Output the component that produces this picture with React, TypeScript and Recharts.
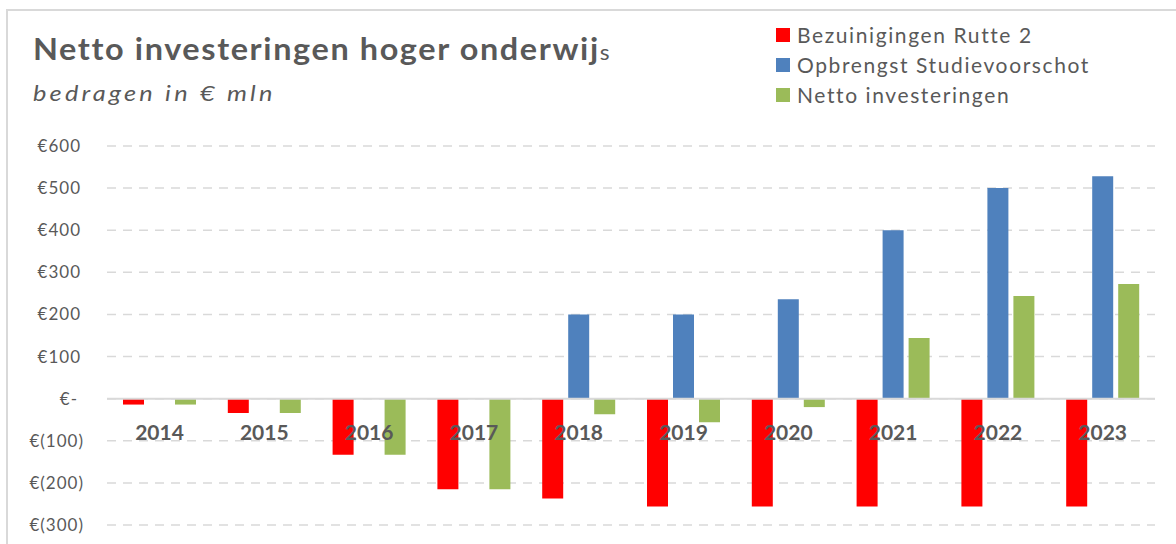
import React from "react";
import {
  BarChart,
  Bar,
  XAxis,
  YAxis,
  CartesianGrid,
  ReferenceLine,
  LabelList,
} from "recharts";

const years = ["2014", "2015", "2016", "2017", "2018", "2019", "2020", "2021", "2022", "2023"];
const bezuinigingen = [-14, -34, -133, -215, -237, -256, -256, -256, -256, -256];
const opbrengst = [0, 0, 0, 0, 200, 200, 236, 400, 500, 528];
const netto = [-14, -34, -133, -215, -37, -56, -20, 144, 244, 272];
const yTicks = [-300, -200, -100, 0, 100, 200, 300, 400, 500, 600];

const series = [
  { key: "bezuinigingen", name: "Bezuinigingen Rutte 2", color: "#FF0000" },
  { key: "opbrengst", name: "Opbrengst Studievoorschot", color: "#4F81BD" },
  { key: "netto", name: "Netto investeringen", color: "#9BBB59" },
];

const data = years.map((year, i) => ({
  year,
  bezuinigingen: bezuinigingen[i],
  opbrengst: opbrengst[i],
  netto: netto[i],
}));

const FONT = "Lato, 'Open Sans', sans-serif";
const GREY = "#595959";
const BAR_SIZE = 21;
const BAR_GAP = 5;

const formatEuro = (v: number) => {
  if (v === 0) return "€-";
  if (v < 0) return `€(${Math.abs(v)})`;
  return `€${v}`;
};

const YTick = (props: any) => {
  const { x, y, payload } = props;
  const v = payload.value;
  const shift = v > 0 ? -2 : v === 0 ? -5 : 1;
  return (
    <text
      x={x + shift}
      y={y}
      dy={6}
      textAnchor="end"
      fill={GREY}
      fontSize={17}
      letterSpacing={1}
      fontFamily={FONT}
    >
      {formatEuro(v)}
    </text>
  );
};

// year labels sit just under the zero line, centred on the group (attached to the last series so they draw on top)
const YearLabel = (props: any) => {
  const box = props.viewBox && props.viewBox.width != null ? props.viewBox : props;
  const { x, y, width, height } = box;
  const i = props.index;
  const zero = netto[i] >= 0 ? Math.max(y, y + height) : Math.min(y, y + height);
  const cx = x + width / 2 - (BAR_SIZE + BAR_GAP);
  return (
    <text
      x={cx}
      y={zero + 41}
      textAnchor="middle"
      fill={GREY}
      fontSize={21}
      fontWeight={700}
      fontFamily={FONT}
    >
      {years[i]}
    </text>
  );
};

const App: React.FC = () => {
  return (
    <div
      style={{
        position: "absolute",
        left: 0,
        top: 0,
        width: 1176,
        height: 544,
        background: "#fff",
        overflow: "hidden",
      }}
    >
      <div
        style={{
          position: "absolute",
          left: 6,
          top: 9,
          width: 1200,
          height: 600,
          borderTop: "2px solid #D9D9D9",
          borderLeft: "2px solid #D9D9D9",
        }}
      />
      <div
        style={{
          position: "absolute",
          left: 33,
          top: 33,
          fontFamily: FONT,
          fontSize: 30,
          fontWeight: 700,
          letterSpacing: 1.5,
          color: GREY,
          lineHeight: 1,
          whiteSpace: "nowrap",
          transform: "scaleX(1.08)",
          transformOrigin: "left top",
        }}
      >
        Netto investeringen hoger onderwij
        <span style={{ fontSize: 21, fontWeight: 400, letterSpacing: 0 }}>s</span>
      </div>
      <div
        style={{
          position: "absolute",
          left: 33,
          top: 82,
          fontFamily: FONT,
          fontSize: 22,
          fontStyle: "italic",
          letterSpacing: 2.8,
          color: GREY,
          lineHeight: 1,
          whiteSpace: "nowrap",
          transform: "scaleX(1.15)",
          transformOrigin: "left top",
        }}
      >
        bedragen in € mln
      </div>
      <div
        style={{
          position: "absolute",
          left: 776,
          top: 20,
          fontFamily: FONT,
          fontSize: 21,
          letterSpacing: 1.6,
          color: GREY,
          zIndex: 2,
        }}
      >
        {series.map((s) => (
          <div key={s.key} style={{ display: "flex", alignItems: "center", height: 30, lineHeight: "30px" }}>
            <span style={{ width: 14, height: 14, background: s.color, marginRight: 7, flex: "none" }} />
            <span style={{ whiteSpace: "nowrap" }}>{s.name}</span>
          </div>
        ))}
      </div>
      <BarChart
        width={1176}
        height={544}
        data={data}
        margin={{ top: 146, right: 21, bottom: 19, left: 0 }}
        barSize={BAR_SIZE}
        barGap={BAR_GAP}
        style={{ position: "absolute", left: 0, top: 0 }}
      >
        <CartesianGrid vertical={false} stroke="#D9D9D9" strokeWidth={1.5} strokeDasharray="9 7" />
        <XAxis dataKey="year" hide />
        <YAxis
          width={107}
          domain={[-300, 600]}
          ticks={yTicks}
          axisLine={false}
          tickLine={false}
          tickSize={0}
          tickMargin={24}
          tick={<YTick />}
          interval={0}
        />
        <ReferenceLine y={0} stroke="#D9D9D9" strokeWidth={2} />
        <Bar dataKey="bezuinigingen" name={series[0].name} fill={series[0].color} isAnimationActive={false} />
        <Bar dataKey="opbrengst" name={series[1].name} fill={series[1].color} isAnimationActive={false} />
        <Bar dataKey="netto" name={series[2].name} fill={series[2].color} isAnimationActive={false}>
          <LabelList dataKey="netto" content={<YearLabel />} />
        </Bar>
      </BarChart>
    </div>
  );
};

export default App;
